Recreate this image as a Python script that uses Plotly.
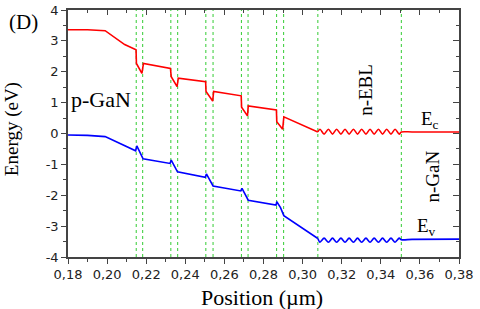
import plotly.graph_objects as go

# ---- data ----
ec_x = [0.180, 0.190, 0.199, 0.209, 0.2148, 0.2150, 0.2178, 0.2186,
        0.2324, 0.2328, 0.2358, 0.2364,
        0.2504, 0.2506, 0.2540, 0.2545,
        0.2686, 0.2688, 0.2718, 0.2722,
        0.2866, 0.2868, 0.2898, 0.2904,
        0.3078, 0.3089, 0.3110, 0.3132, 0.3153, 0.3174, 0.3196, 0.3217,
        0.3238, 0.3260, 0.3281, 0.3302, 0.3324, 0.3345, 0.3366, 0.3388,
        0.3409, 0.3430, 0.3452, 0.3473, 0.3494, 0.3505, 0.3560, 0.3800]
ec_y = [3.36, 3.36, 3.33, 2.88, 2.71, 2.27, 1.95, 2.27,
        2.11, 1.84, 1.52, 1.79,
        1.68, 1.36, 1.05, 1.36,
        1.22, 0.85, 0.57, 0.89,
        0.76, 0.38, 0.14, 0.54,
        0.05, 0.14, -0.02, 0.14, -0.02, 0.14, -0.02, 0.14,
        -0.02, 0.14, -0.02, 0.14, -0.02, 0.14, -0.02, 0.14,
        -0.02, 0.14, -0.02, 0.14, -0.02, 0.05, 0.05, 0.05]

ev_x = [0.180, 0.190, 0.199, 0.2146, 0.2152, 0.2184,
        0.2322, 0.2328, 0.2360,
        0.2502, 0.2508, 0.2542,
        0.2684, 0.2690, 0.2722,
        0.2864, 0.2868, 0.2887, 0.2904,
        0.3078, 0.3089, 0.3110, 0.3132, 0.3153, 0.3174, 0.3196, 0.3217,
        0.3238, 0.3260, 0.3281, 0.3302, 0.3324, 0.3345, 0.3366, 0.3388,
        0.3409, 0.3430, 0.3452, 0.3473, 0.3494, 0.3505, 0.3560, 0.3800]
ev_y = [-0.05, -0.06, -0.10, -0.56, -0.40, -0.82,
        -0.97, -0.86, -1.24,
        -1.42, -1.31, -1.70,
        -1.86, -1.78, -2.16,
        -2.32, -2.21, -2.40, -2.66,
        -3.40, -3.52, -3.39, -3.52, -3.39, -3.52, -3.39, -3.52,
        -3.39, -3.52, -3.39, -3.52, -3.39, -3.52, -3.39, -3.52,
        -3.39, -3.52, -3.39, -3.52, -3.39, -3.44, -3.43, -3.42]

interfaces = [0.2149, 0.2182, 0.2326, 0.2361, 0.2505, 0.2542,
              0.2687, 0.2721, 0.2867, 0.2903, 0.3078, 0.3505]

x_ticks = [0.18, 0.20, 0.22, 0.24, 0.26, 0.28, 0.30, 0.32, 0.34, 0.36, 0.38]
x_ticktext = ["0,18", "0,20", "0,22", "0,24", "0,26", "0,28", "0,30",
              "0,32", "0,34", "0,36", "0,38"]
y_ticks = [-4, -3, -2, -1, 0, 1, 2, 3, 4]
y_ticktext = ["-4", "-3", "-2", "-1", "0", "1", "2", "3", "4"]

# ---- figure ----
fig = go.Figure()
ebl_start = 0.3078  # start of the n-EBL superlattice (smooth part)


def add_band(xs, ys, color):
    k = xs.index(ebl_start)
    fig.add_trace(go.Scatter(x=xs[:k + 1], y=ys[:k + 1], mode="lines",
                             line=dict(color=color, width=1.6),
                             showlegend=False))
    fig.add_trace(go.Scatter(x=xs[k:], y=ys[k:], mode="lines",
                             line=dict(color=color, width=1.6, shape="spline",
                                       smoothing=0.8),
                             showlegend=False))


add_band(ec_x, ec_y, "#ff0000")
add_band(ev_x, ev_y, "#0000ff")
fig.add_trace(go.Scatter(x=[0.18], y=[-10], xaxis="x2", yaxis="y2",
                         mode="markers", marker=dict(opacity=0),
                         showlegend=False, hoverinfo="skip"))

for xi in interfaces:
    fig.add_vline(x=xi, line=dict(color="#33cc33", width=1, dash="dot"), layer="below")

axis_line = dict(showline=True, linecolor="#444", linewidth=1.5, showgrid=False,
                 zeroline=False, automargin=False)
tickfont = dict(family="DejaVu Sans", size=13, color="#222")

fig.update_layout(
    template="none",
    width=480, height=309,
    margin=dict(l=68, r=21, t=10, b=52, autoexpand=False),
    paper_bgcolor="white", plot_bgcolor="white",
    xaxis=dict(range=[0.18, 0.38], tickmode="array", tickvals=x_ticks,
               ticktext=x_ticktext, ticks="outside", ticklen=5, tickwidth=1.3,
               tickcolor="#444", tickfont=tickfont,
               minor=dict(dtick=0.01, tick0=0.18, ticks="outside", ticklen=3,
                          tickcolor="#444"),
               **axis_line),
    yaxis=dict(range=[-4, 4], tickmode="array", tickvals=y_ticks,
               ticktext=y_ticktext, ticks="outside", ticklen=5, tickwidth=1.3,
               tickcolor="#444", tickfont=tickfont,
               minor=dict(dtick=0.5, tick0=0, ticks="outside", ticklen=3,
                          tickcolor="#444"),
               **axis_line),
    xaxis2=dict(range=[0.18, 0.38], overlaying="x", side="top",
                tickmode="array", tickvals=x_ticks, showticklabels=False,
                ticks="inside", ticklen=5, tickcolor="#444",
                minor=dict(dtick=0.01, tick0=0.18, ticks="inside", ticklen=3,
                           tickcolor="#444"),
                **axis_line),
    yaxis2=dict(range=[-4, 4], overlaying="y", side="right",
                tickmode="array", tickvals=y_ticks, showticklabels=False,
                ticks="inside", ticklen=6, tickcolor="#444",
                minor=dict(dtick=0.5, tick0=0, ticks="inside", ticklen=3,
                           tickcolor="#444"),
                **axis_line),
)

serif = "Liberation Serif"
ann = [
    dict(text="(D)", xref="paper", yref="paper", x=-0.113, y=0.953,
         font=dict(family=serif, size=21)),
    dict(text="p-GaN", xref="x", yref="y", x=0.197, y=1.09,
         font=dict(family=serif, size=22)),
    dict(text="n-EBL", xref="x", yref="y", x=0.3322, y=1.40, textangle=-90,
         font=dict(family=serif, size=19)),
    dict(text="n-GaN", xref="x", yref="y", x=0.3664, y=-1.38, textangle=-90,
         font=dict(family=serif, size=19)),
    dict(text="E<sub>c</sub>", xref="x", yref="y", x=0.3652, y=0.45,
         font=dict(family=serif, size=19)),
    dict(text="E<sub>v</sub>", xref="x", yref="y", x=0.3635, y=-3.02,
         font=dict(family=serif, size=19)),
    dict(text="Position (µm)", xref="paper", yref="paper", x=0.496, y=-0.162,
         font=dict(family=serif, size=22)),
    dict(text="Energy (eV)", xref="paper", yref="paper", x=-0.143, y=0.518,
         textangle=-90, font=dict(family=serif, size=19)),
]
for a in ann:
    a.update(showarrow=False, xanchor="center", yanchor="middle")
    a["font"]["color"] = "black"
fig.update_layout(annotations=ann)

fig.write_html("out.html", config={"displayModeBar": False},
               post_script="document.body.style.margin='0';document.body.style.overflow='hidden';")
